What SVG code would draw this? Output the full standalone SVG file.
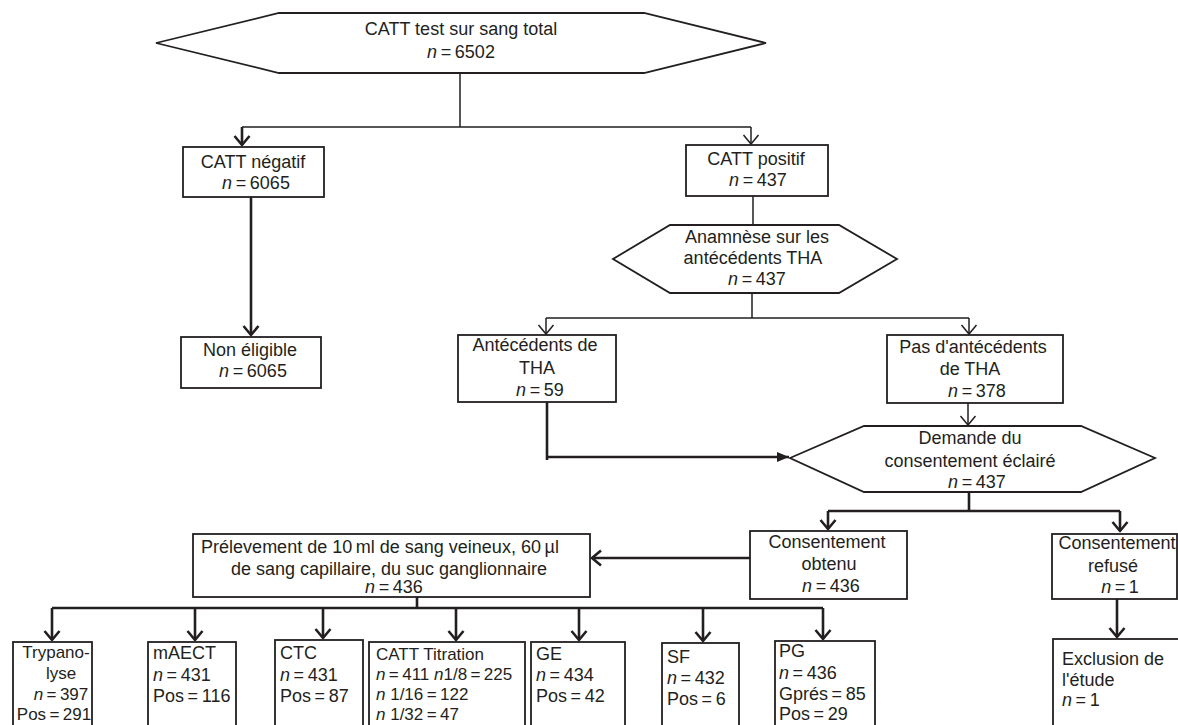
<svg xmlns="http://www.w3.org/2000/svg" width="1178" height="725" viewBox="0 0 1178 725">
<style>
.bx{fill:#fff;stroke:#231f20;stroke-width:1.8}
.t{font-family:"Liberation Sans",Arial,sans-serif;font-size:18px;fill:#231f20}
.s{font-size:17px}
.m{text-anchor:middle}
.i{font-style:italic}
.c{fill:none;stroke:#231f20;stroke-width:1.5}
.k{fill:none;stroke:#231f20;stroke-width:2.6}
</style>
<defs>
<marker id="a1" markerUnits="userSpaceOnUse" markerWidth="18" markerHeight="18" refX="10" refY="8" orient="auto" viewBox="0 0 18 16"><path d="M1,0.5 L10,8 L1,15.5" fill="none" stroke="#231f20" stroke-width="1.5"/></marker>
<marker id="a2" markerUnits="userSpaceOnUse" markerWidth="18" markerHeight="18" refX="10" refY="8" orient="auto" viewBox="0 0 18 16"><path d="M1,0.5 L10,8 L1,15.5" fill="none" stroke="#231f20" stroke-width="2.6" stroke-linejoin="round"/></marker>
<marker id="af" markerUnits="userSpaceOnUse" markerWidth="14" markerHeight="12" refX="12" refY="5" orient="auto" viewBox="0 0 14 12"><path d="M0,0 L12,5 L0,10 z" fill="#231f20"/></marker>
</defs>

<g id="connectors">
<path class="c" d="M460,73 V127 M242,127 H751"/>
<path class="k" d="M242,127 V145" marker-end="url(#a2)"/>
<path class="c" d="M751,127 V144" marker-end="url(#a1)"/>
<path class="k" d="M251,197 V335" marker-end="url(#a2)"/>
<path class="c" d="M753,196 V225 M752,293 V318 M546,318 H969"/>
<path class="c" d="M546,318 V334" marker-end="url(#a1)"/>
<path class="c" d="M969,318 V334" marker-end="url(#a1)"/>
<path class="k" d="M547,402 V460"/>
<path class="k" d="M546,457 H789" marker-end="url(#af)"/>
<path class="c" d="M968,403 V425" marker-end="url(#a1)"/>
<path class="k" d="M969,492 V511 M828,511 H1120"/>
<path class="k" d="M828,511 V529" marker-end="url(#a2)"/>
<path class="k" d="M1120,511 V531" marker-end="url(#a2)"/>
<path class="k" d="M750,558 H592" marker-end="url(#a2)"/>
<path class="k" d="M417,597 V608 M52,608 H823"/>
<path class="k" d="M52,608 V640" marker-end="url(#a2)"/>
<path class="k" d="M195,608 V640" marker-end="url(#a2)"/>
<path class="k" d="M323,608 V638" marker-end="url(#a2)"/>
<path class="k" d="M456,608 V640" marker-end="url(#a2)"/>
<path class="k" d="M579,608 V640" marker-end="url(#a2)"/>
<path class="k" d="M703,608 V641" marker-end="url(#a2)"/>
<path class="k" d="M823,608 V639" marker-end="url(#a2)"/>
<path class="k" d="M1117,599 V637" marker-end="url(#a2)"/>
</g>

<g id="catt-test">
<polygon class="bx" points="156,43 279,13 644,13 766,43 644,73 279,73"/>
<text class="t m" x="461" y="35">CATT test sur sang total</text>
<text class="t m" x="461" y="58"><tspan class="i">n</tspan>&#8201;=&#8201;6502</text>
</g>

<g id="catt-negatif">
<rect class="bx" x="183" y="147" width="141" height="50"/>
<text class="t m" x="253" y="168">CATT négatif</text>
<text class="t m" x="256" y="189"><tspan class="i">n</tspan>&#8201;=&#8201;6065</text>
</g>

<g id="catt-positif">
<rect class="bx" x="686" y="145" width="142" height="51"/>
<text class="t m" x="756" y="165">CATT positif</text>
<text class="t m" x="758" y="186"><tspan class="i">n</tspan>&#8201;=&#8201;437</text>
</g>

<g id="anamnese">
<polygon class="bx" points="613,259 670,225 839,225 897,259 839,293 670,293"/>
<text class="t m" x="757" y="243">Anamnèse sur les</text>
<text class="t m" x="753" y="264">antécédents THA</text>
<text class="t m" x="757" y="285"><tspan class="i">n</tspan>&#8201;=&#8201;437</text>
</g>

<g id="non-eligible">
<rect class="bx" x="181" y="337" width="140" height="51"/>
<text class="t m" x="250" y="356">Non éligible</text>
<text class="t m" x="253" y="377"><tspan class="i">n</tspan>&#8201;=&#8201;6065</text>
</g>

<g id="antecedents">
<rect class="bx" x="458" y="335" width="158" height="67"/>
<text class="t m" x="535" y="351">Antécédents de</text>
<text class="t m" x="537" y="374">THA</text>
<text class="t m" x="540" y="396"><tspan class="i">n</tspan>&#8201;=&#8201;59</text>
</g>

<g id="pas-antecedents">
<rect class="bx" x="887" y="335" width="176" height="68"/>
<text class="t m" x="973" y="353">Pas d'antécédents</text>
<text class="t m" x="970" y="375">de THA</text>
<text class="t m" x="977" y="397"><tspan class="i">n</tspan>&#8201;=&#8201;378</text>
</g>

<g id="demande">
<polygon class="bx" points="790,458 864,426 1081,426 1155,458 1081,492 864,492"/>
<text class="t m" x="970" y="444">Demande du</text>
<text class="t m" x="970" y="467">consentement éclairé</text>
<text class="t m" x="977" y="488"><tspan class="i">n</tspan>&#8201;=&#8201;437</text>
</g>

<g id="consentement-obtenu">
<rect class="bx" x="750" y="531" width="157" height="68"/>
<text class="t m" x="827" y="548">Consentement</text>
<text class="t m" x="829" y="570">obtenu</text>
<text class="t m" x="831" y="592"><tspan class="i">n</tspan>&#8201;=&#8201;436</text>
</g>

<g id="consentement-refuse">
<rect class="bx" x="1052" y="534" width="125" height="65"/>
<text class="t m" x="1117" y="549">Consentement</text>
<text class="t m" x="1113" y="572">refusé</text>
<text class="t m" x="1120" y="593"><tspan class="i">n</tspan>&#8201;=&#8201;1</text>
</g>

<g id="prelevement">
<rect class="bx" x="193" y="534" width="397" height="63"/>
<text class="t m" x="380" y="553">Prélevement de 10&#8201;ml de sang veineux, 60&#8201;µl</text>
<text class="t m" x="389" y="575">de sang capillaire, du suc ganglionnaire</text>
<text class="t m" x="394" y="593"><tspan class="i">n</tspan>&#8201;=&#8201;436</text>
</g>

<g id="trypanolyse">
<rect class="bx" x="13" y="642" width="79" height="90"/>
<text class="t s m" x="56" y="658">Trypano-</text>
<text class="t s m" x="61" y="679">lyse</text>
<text class="t s m" x="61" y="700"><tspan class="i">n</tspan>&#8201;=&#8201;397</text>
<text class="t s m" x="54" y="720">Pos&#8201;=&#8201;291</text>
</g>

<g id="maect">
<rect class="bx" x="148" y="642" width="88" height="90"/>
<text class="t" x="153" y="659">mAECT</text>
<text class="t" x="153" y="681"><tspan class="i">n</tspan>&#8201;=&#8201;431</text>
<text class="t" x="153" y="702">Pos&#8201;=&#8201;116</text>
</g>

<g id="ctc">
<rect class="bx" x="275" y="640" width="88" height="92"/>
<text class="t" x="280" y="659">CTC</text>
<text class="t" x="280" y="681"><tspan class="i">n</tspan>&#8201;=&#8201;431</text>
<text class="t" x="280" y="702">Pos&#8201;=&#8201;87</text>
</g>

<g id="catt-titration">
<rect class="bx" x="369" y="642" width="156" height="90"/>
<text class="t s" x="376" y="660">CATT Titration</text>
<text class="t s" x="376" y="680"><tspan class="i">n</tspan>&#8201;=&#8201;411 <tspan class="i">n</tspan>1/8&#8201;=&#8201;225</text>
<text class="t s" x="376" y="700"><tspan class="i">n</tspan> 1/16&#8201;=&#8201;122</text>
<text class="t s" x="376" y="720"><tspan class="i">n</tspan> 1/32&#8201;=&#8201;47</text>
</g>

<g id="ge">
<rect class="bx" x="531" y="642" width="94" height="90"/>
<text class="t" x="536" y="660">GE</text>
<text class="t" x="536" y="681"><tspan class="i">n</tspan>&#8201;=&#8201;434</text>
<text class="t" x="536" y="702">Pos&#8201;=&#8201;42</text>
</g>

<g id="sf">
<rect class="bx" x="662" y="643" width="77" height="89"/>
<text class="t" x="667" y="663">SF</text>
<text class="t" x="667" y="684"><tspan class="i">n</tspan>&#8201;=&#8201;432</text>
<text class="t" x="667" y="705">Pos&#8201;=&#8201;6</text>
</g>

<g id="pg">
<rect class="bx" x="775" y="641" width="100" height="91"/>
<text class="t" x="779" y="657">PG</text>
<text class="t" x="779" y="679"><tspan class="i">n</tspan>&#8201;=&#8201;436</text>
<text class="t" x="779" y="700">Gprés&#8201;=&#8201;85</text>
<text class="t" x="779" y="720">Pos&#8201;=&#8201;29</text>
</g>

<g id="exclusion">
<rect class="bx" x="1053" y="639" width="130" height="93"/>
<text class="t" x="1062" y="665">Exclusion de</text>
<text class="t" x="1062" y="686">l'étude</text>
<text class="t" x="1062" y="706"><tspan class="i">n</tspan>&#8201;=&#8201;1</text>
</g>
</svg>
